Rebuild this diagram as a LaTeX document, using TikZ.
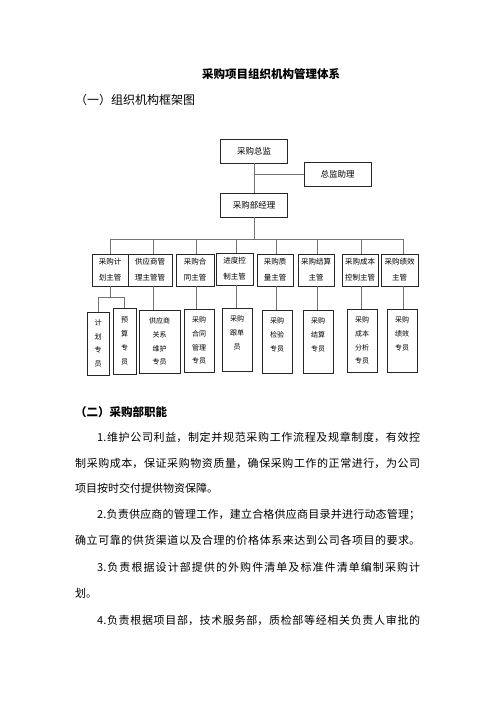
\documentclass[tikz,border=0pt]{standalone}
\usepackage{fontspec}
\newfontfamily\cjk{Noto Sans CJK SC}
\XeTeXlinebreaklocale "zh"
\XeTeXlinebreakskip=0pt plus 1.5pt minus 0.3pt
\newcommand\fullline[1]{\parfillskip=0pt\relax #1\par}
\begin{document}
\begin{tikzpicture}[x=1pt,y=-1pt,
  box/.style={draw=black!85, line width=0.7pt, inner sep=0pt, align=center, font=\cjk\fontsize{8.5}{10}\selectfont},
  topbox/.style={box, minimum width=67pt, minimum height=24pt},
  mbox/.style={box, minimum height=32pt, font=\cjk\fontsize{7.5}{16}\selectfont},
  sbox/.style={box, minimum width=30pt, minimum height=63pt, font=\cjk\fontsize{7}{13.7}\selectfont},
  link/.style={draw=black!55, line width=0.9pt},
  para/.style={anchor=west, inner sep=0pt, font=\cjk\fontsize{11}{13}\selectfont},
  jpara/.style={para, text width=#1, align=justify}
]
\useasboundingbox[fill=white] (0,0) rectangle (496,702);

% headings
\node[inner sep=0pt, font=\cjk\bfseries\fontsize{11.5}{13}\selectfont] (title) at (271,74) {采购项目组织机构管理体系};
\node[anchor=west, inner sep=0pt, font=\cjk\fontsize{12}{14}\selectfont] (sub) at (75,100) {（一）组织机构框架图};

% top level
\node[topbox] (zj) at (254,151) {采购总监};
\node[topbox] (zl) at (337.5,174) {总监助理};
\node[topbox] (jl) at (254,205) {采购部经理};
\coordinate (a1) at (zj.south |- zl.west);
\draw[link] (zj.south) -- (jl.north);
\draw[link] (a1) -- (zl.west);

% column x positions
\coordinate (d1) at (110,0);
\coordinate (d2) at (153,0);
\coordinate (d3) at (196,0);
\coordinate (d4) at (236,0);
\coordinate (d5) at (276,0);
\coordinate (d6) at (317,0);
\coordinate (d7) at (361,0);
\coordinate (d8) at (403,0);
\coordinate (bus) at (0,239);
\coordinate (sb) at (0,297);

% second level
\node[mbox, minimum width=36pt] (m1) at (110,270) {采购计\\划主管};
\node[mbox, minimum width=44pt] (m2) at (150,270) {供应商管\\理主管管};
\node[mbox, minimum width=38pt] (m3) at (195,270) {采购合\\同主管};
\node[mbox, minimum width=37pt] (m4) at (234.5,269) {进度控\\制主管};
\node[mbox, minimum width=36pt] (m5) at (275,270) {采购质\\量主管};
\node[mbox, minimum width=36pt] (m6) at (316,270) {采购结算\\主管};
\node[mbox, minimum width=36pt] (m7) at (360,270) {采购成本\\控制主管};
\node[mbox, minimum width=37pt] (m8) at (399.5,270) {采购绩效\\主管};

\draw[link] (jl.south) -- (jl.south |- bus);
\draw[link] (d1 |- bus) -- (d8 |- bus);
\foreach \i in {1,...,8} {
  \draw[link] (d\i |- bus) -- (d\i |- m\i.north);
}

% third level
\node[sbox, minimum width=22pt] (s1) at (98,343.5) {计\\划\\专\\员};
\node[sbox, minimum width=23pt, minimum height=66pt] (s2) at (124.5,341) {预\\算\\专\\员};
\node[sbox, minimum width=41pt] (s3) at (159.5,341.5) {供应商\\关系\\维护\\专员};
\node[sbox] (s4) at (199,340.5) {采购\\合同\\管理\\专员};
\node[sbox] (s5) at (237,339.5) {采购\\跟单\\员\\~};
\node[sbox] (s6) at (277,341.5) {采购\\检验\\专员\\~};
\node[sbox] (s7) at (318,341.5) {采购\\结算\\专员\\~};
\node[sbox] (s8) at (362,340.5) {采购\\成本\\分析\\专员};
\node[sbox] (s9) at (402,340.5) {采购\\绩效\\专员\\~};

\draw[link] (d1 |- m1.south) -- (d1 |- sb);
\draw[link] (s1.north |- sb) -- (s2.north |- sb);
\draw[link] (s1.north |- sb) -- (s1.north);
\draw[link] (s2.north |- sb) -- (s2.north);
\draw[link] (d2 |- m2.south) -- (d2 |- s3.north);
\draw[link] (d3 |- m3.south) -- (d3 |- s4.north);
\draw[link] (d4 |- m4.south) -- (d4 |- s5.north);
\draw[link] (d5 |- m5.south) -- (d5 |- s6.north);
\draw[link] (d6 |- m6.south) -- (d6 |- s7.north);
\draw[link] (d7 |- m7.south) -- (d7 |- s8.north);
\draw[link] (d8 |- m8.south) -- (d8 |- s9.north);

% text section
\node[para, font=\cjk\bfseries\fontsize{11.5}{13}\selectfont] (h2) at (75,412) {（二）采购部职能};
\node[jpara=323pt] (p1) at (97,437) {\fullline{1.维护公司利益，制定并规范采购工作流程及规章制度，有效控}};
\node[jpara=345pt] (p2) at (75,463) {\fullline{制采购成本，保证采购物资质量，确保采购工作的正常进行，为公司}};
\node[para] (p3) at (75,488) {项目按时交付提供物资保障。};
\node[jpara=323pt] (p4) at (97,515) {\fullline{2.负责供应商的管理工作，建立合格供应商目录并进行动态管理；}};
\node[jpara=345pt] (p5) at (75,540) {\fullline{确立可靠的供货渠道以及合理的价格体系来达到公司各项目的要求。}};
\node[jpara=323pt] (p6) at (97,567) {\fullline{3.负责根据设计部提供的外购件清单及标准件清单编制采购计}};
\node[para] (p7) at (75,593) {划。};
\node[jpara=323pt] (p8) at (97,620) {\fullline{4.负责根据项目部，技术服务部，质检部等经相关负责人审批的}};
\end{tikzpicture}
\end{document}
